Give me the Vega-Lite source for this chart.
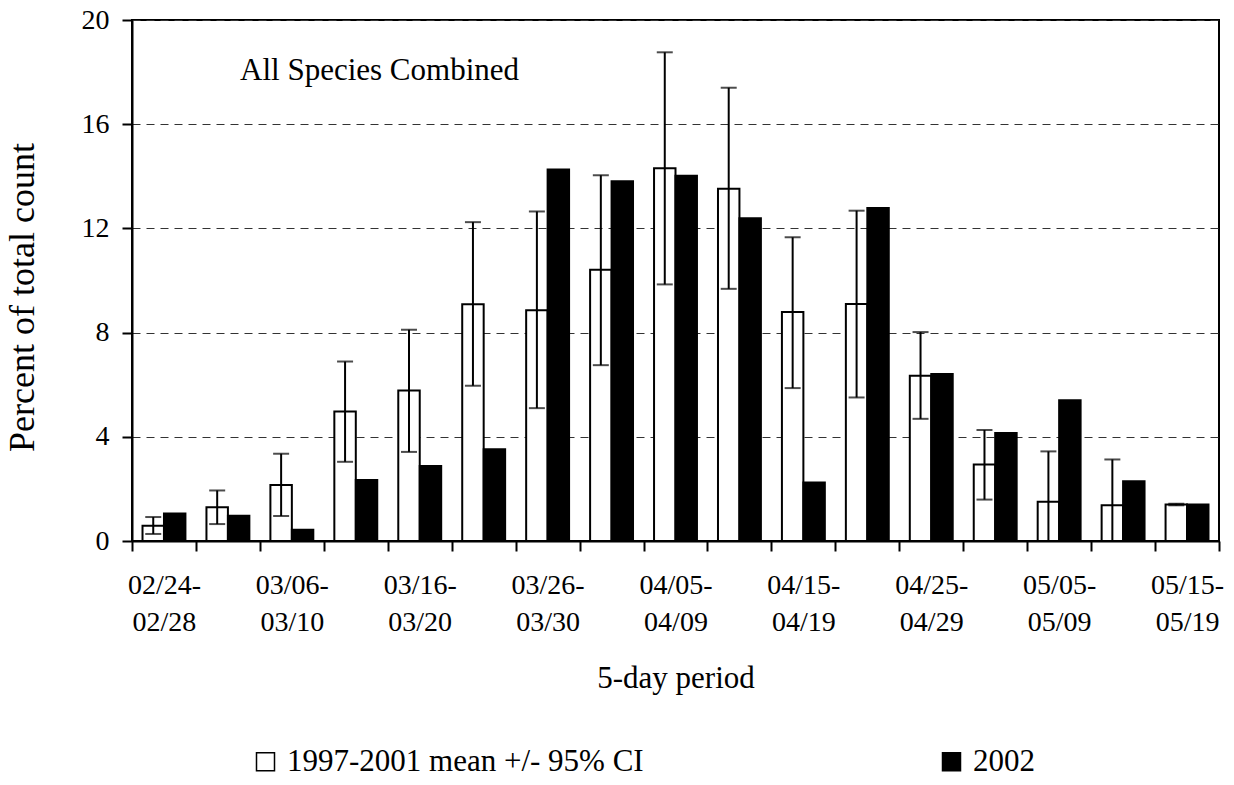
{
  "$schema": "https://vega.github.io/schema/vega-lite/v6.json",
  "width": 1087,
  "height": 521,
  "autosize": {"type": "none"},
  "padding": {"left": 132, "top": 20, "right": 15, "bottom": 244},
  "background": "white",
  "config": {
    "font": "Liberation Serif",
    "text": {"font": "Liberation Serif"},
    "view": {"stroke": "black", "strokeWidth": 2},
    "axis": {"labelFont": "Liberation Serif", "titleFont": "Liberation Serif", "domainColor": "black", "domainWidth": 2, "tickColor": "black", "tickWidth": 2, "labelColor": "black", "titleColor": "black", "titleFontWeight": "normal"},
    "legend": {"labelFont": "Liberation Serif", "labelColor": "black"}
  },
  "datasets": {
    "bars": [
      {"period": "02/24-02/28", "series": "1997-2001 mean +/- 95% CI", "value": 0.59, "lo": 0.27, "hi": 0.92},
      {"period": "02/24-02/28", "series": "2002", "value": 1.06},
      {"period": "03/01-03/05", "series": "1997-2001 mean +/- 95% CI", "value": 1.30, "lo": 0.65, "hi": 1.94},
      {"period": "03/01-03/05", "series": "2002", "value": 0.97},
      {"period": "03/06-03/10", "series": "1997-2001 mean +/- 95% CI", "value": 2.15, "lo": 0.96, "hi": 3.35},
      {"period": "03/06-03/10", "series": "2002", "value": 0.43},
      {"period": "03/11-03/15", "series": "1997-2001 mean +/- 95% CI", "value": 4.97, "lo": 3.04, "hi": 6.89},
      {"period": "03/11-03/15", "series": "2002", "value": 2.34},
      {"period": "03/16-03/20", "series": "1997-2001 mean +/- 95% CI", "value": 5.78, "lo": 3.42, "hi": 8.11},
      {"period": "03/16-03/20", "series": "2002", "value": 2.88},
      {"period": "03/21-03/25", "series": "1997-2001 mean +/- 95% CI", "value": 9.09, "lo": 5.96, "hi": 12.24},
      {"period": "03/21-03/25", "series": "2002", "value": 3.52},
      {"period": "03/26-03/30", "series": "1997-2001 mean +/- 95% CI", "value": 8.86, "lo": 5.10, "hi": 12.65},
      {"period": "03/26-03/30", "series": "2002", "value": 14.26},
      {"period": "03/31-04/04", "series": "1997-2001 mean +/- 95% CI", "value": 10.41, "lo": 6.75, "hi": 14.04},
      {"period": "03/31-04/04", "series": "2002", "value": 13.81},
      {"period": "04/05-04/09", "series": "1997-2001 mean +/- 95% CI", "value": 14.31, "lo": 9.85, "hi": 18.76},
      {"period": "04/05-04/09", "series": "2002", "value": 14.02},
      {"period": "04/10-04/14", "series": "1997-2001 mean +/- 95% CI", "value": 13.52, "lo": 9.68, "hi": 17.40},
      {"period": "04/10-04/14", "series": "2002", "value": 12.39},
      {"period": "04/15-04/19", "series": "1997-2001 mean +/- 95% CI", "value": 8.79, "lo": 5.87, "hi": 11.66},
      {"period": "04/15-04/19", "series": "2002", "value": 2.25},
      {"period": "04/20-04/24", "series": "1997-2001 mean +/- 95% CI", "value": 9.10, "lo": 5.51, "hi": 12.68},
      {"period": "04/20-04/24", "series": "2002", "value": 12.78},
      {"period": "04/25-04/29", "series": "1997-2001 mean +/- 95% CI", "value": 6.34, "lo": 4.69, "hi": 8.02},
      {"period": "04/25-04/29", "series": "2002", "value": 6.41},
      {"period": "04/30-05/04", "series": "1997-2001 mean +/- 95% CI", "value": 2.94, "lo": 1.59, "hi": 4.26},
      {"period": "04/30-05/04", "series": "2002", "value": 4.15},
      {"period": "05/05-05/09", "series": "1997-2001 mean +/- 95% CI", "value": 1.51, "lo": -0.42, "hi": 3.44},
      {"period": "05/05-05/09", "series": "2002", "value": 5.40},
      {"period": "05/10-05/14", "series": "1997-2001 mean +/- 95% CI", "value": 1.37, "lo": -0.39, "hi": 3.13},
      {"period": "05/10-05/14", "series": "2002", "value": 2.29},
      {"period": "05/15-05/19", "series": "1997-2001 mean +/- 95% CI", "value": 1.40, "lo": 1.37, "hi": 1.43},
      {"period": "05/15-05/19", "series": "2002", "value": 1.40}
    ],
    "note": [{"label": "All Species Combined", "period": "03/01-03/05", "value": 17.7}]
  },
  "layer": [
    {
      "data": {"name": "bars"},
      "mark": {"type": "bar", "stroke": "black", "strokeWidth": 2},
      "encoding": {
        "x": {
          "field": "period", "type": "nominal", "sort": null,
          "scale": {"paddingInner": 0, "paddingOuter": 0},
          "axis": {
            "title": "5-day period", "titleFontSize": 31, "titleBaseline": "alphabetic", "titleY": 146,
            "labelAngle": 0, "labelFontSize": 28, "labelLineHeight": 37, "labelPadding": 20,
            "labelOverlap": false, "labelBaseline": "top",
            "tickBand": "extent", "tickSize": 10,
            "labelExpr": "indexof(['02/24-02/28','03/06-03/10','03/16-03/20','03/26-03/30','04/05-04/09','04/15-04/19','04/25-04/29','05/05-05/09','05/15-05/19'], datum.value) >= 0 ? [substring(datum.value, 0, 6), substring(datum.value, 6)] : ''"
          }
        },
        "xOffset": {
          "field": "series", "type": "nominal",
          "scale": {"domain": ["1997-2001 mean +/- 95% CI", "2002"], "paddingInner": 0, "paddingOuter": 0.49}
        },
        "y": {
          "field": "value", "type": "quantitative",
          "scale": {"domain": [0, 20], "nice": false},
          "axis": {
            "title": "Percent of total count", "titleFontSize": 36, "titleAngle": -90,
            "titleX": -99, "titleY": 277, "titleAlign": "center", "titleBaseline": "alphabetic",
            "values": [0, 4, 8, 12, 16, 20], "labelFontSize": 28, "labelPadding": 13, "tickSize": 10,
            "grid": true, "gridColor": "#333333", "gridDash": [8, 6], "gridWidth": 1
          }
        },
        "fill": {
          "field": "series", "type": "nominal",
          "scale": {"domain": ["1997-2001 mean +/- 95% CI", "2002"], "range": ["white", "black"]},
          "legend": {
            "title": null, "orient": "none", "legendX": 118, "legendY": 726, "direction": "horizontal",
            "symbolType": "square", "symbolSize": 324, "symbolStrokeColor": "black", "symbolStrokeWidth": 1.5,
            "labelFontSize": 31, "labelOffset": 6, "columnPadding": 292, "labelLimit": 700
          }
        }
      }
    },
    {
      "data": {"name": "bars"},
      "transform": [{"filter": "datum.series === '1997-2001 mean +/- 95% CI'"}],
      "mark": {"type": "rule", "color": "black", "strokeWidth": 2, "clip": true},
      "encoding": {
        "x": {"field": "period", "type": "nominal", "sort": null},
        "xOffset": {"field": "series", "type": "nominal"},
        "y": {"field": "lo", "type": "quantitative"},
        "y2": {"field": "hi"}
      }
    },
    {
      "data": {"name": "bars"},
      "transform": [{"filter": "datum.series === '1997-2001 mean +/- 95% CI'"}],
      "mark": {"type": "tick", "color": "black", "size": 16, "thickness": 2, "orient": "horizontal", "clip": true},
      "encoding": {
        "x": {"field": "period", "type": "nominal", "sort": null},
        "xOffset": {"field": "series", "type": "nominal"},
        "y": {"field": "hi", "type": "quantitative"}
      }
    },
    {
      "data": {"name": "bars"},
      "transform": [{"filter": "datum.series === '1997-2001 mean +/- 95% CI'"}],
      "mark": {"type": "tick", "color": "black", "size": 16, "thickness": 2, "orient": "horizontal", "clip": true},
      "encoding": {
        "x": {"field": "period", "type": "nominal", "sort": null},
        "xOffset": {"field": "series", "type": "nominal"},
        "y": {"field": "lo", "type": "quantitative"}
      }
    },
    {
      "data": {"name": "note"},
      "mark": {"type": "text", "align": "left", "baseline": "alphabetic", "fontSize": 31, "color": "black", "font": "Liberation Serif"},
      "encoding": {
        "x": {"field": "period", "type": "nominal", "bandPosition": 0.69},
        "y": {"field": "value", "type": "quantitative"},
        "text": {"field": "label"}
      }
    }
  ],
  "resolve": {"scale": {"fill": "independent"}}
}
